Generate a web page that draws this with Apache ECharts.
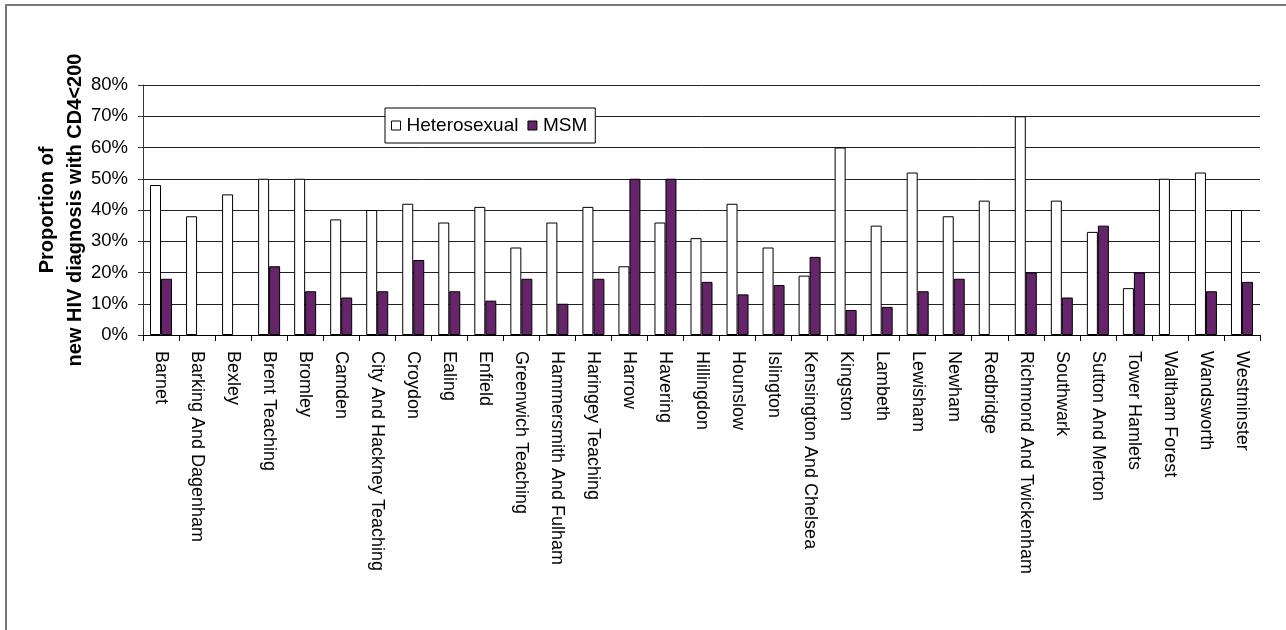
<!DOCTYPE html>
<html>
<head>
<meta charset="utf-8">
<script src="https://cdn.jsdelivr.net/npm/echarts@6/dist/echarts.min.js"></script>
<style>
  html, body { margin: 0; padding: 0; background: #fff; }
  #chart { width: 1286px; height: 630px; }
</style>
</head>
<body>
<div id="chart"></div>
<script>
// London PCTs: share of new HIV diagnoses presenting with CD4 < 200
const categories = [
  'Barnet', 'Barking And Dagenham', 'Bexley', 'Brent Teaching', 'Bromley',
  'Camden', 'City And Hackney Teaching', 'Croydon', 'Ealing', 'Enfield',
  'Greenwich Teaching', 'Hammersmith And Fulham', 'Haringey Teaching', 'Harrow',
  'Havering', 'Hillingdon', 'Hounslow', 'Islington', 'Kensington And Chelsea',
  'Kingston', 'Lambeth', 'Lewisham', 'Newham', 'Redbridge',
  'Richmond And Twickenham', 'Southwark', 'Sutton And Merton', 'Tower Hamlets',
  'Waltham Forest', 'Wandsworth', 'Westminster'
];

// Percentages (null = no value shown)
const heterosexual = [
  48, 38, 45, 50, 50, 37, 40, 42, 36, 41,
  28, 36, 41, 22, 36, 31, 42, 28, 19, 60,
  35, 52, 38, 43, 70, 43, 33, 15, 50, 52, 40
];
const msm = [
  18, null, null, 22, 14, 12, 14, 24, 14, 11,
  18, 10, 18, 50, 50, 17, 13, 16, 25, 8,
  9, 14, 18, null, 20, 12, 35, 20, null, 14, 17
];

const yTicks = { min: 0, max: 80, interval: 10 };
const seriesNames = ['Heterosexual', 'MSM'];

const FONT = "'Liberation Sans', Arial, sans-serif";
const PURPLE = '#66246b';

const chart = echarts.init(document.getElementById('chart'), null, { renderer: 'canvas' });

chart.setOption({
  backgroundColor: '#ffffff',
  animation: false,
  textStyle: { fontFamily: FONT, color: '#000' },
  grid: { left: 143, right: 26, top: 85, bottom: 295, containLabel: false },
  legend: {
    data: seriesNames,
    left: 385,
    top: 108,
    orient: 'horizontal',
    icon: 'rect',
    itemWidth: 9,
    itemHeight: 9,
    itemGap: 9,
    padding: [8, 8, 8, 6],
    backgroundColor: '#ffffff',
    borderColor: '#000',
    borderWidth: 1,
    borderRadius: 0,
    textStyle: { fontFamily: FONT, fontSize: 19, color: '#000', padding: [0, 0, 0, 1] },
    itemStyle: { borderColor: '#000', borderWidth: 1 }
  },
  xAxis: {
    type: 'category',
    data: categories,
    boundaryGap: true,
    axisLine: { show: true, lineStyle: { color: '#000', width: 1 } },
    axisTick: { show: true, length: 6, alignWithLabel: false, lineStyle: { color: '#000' } },
    axisLabel: {
      interval: 0,
      rotate: -90,
      margin: 16,
      fontFamily: FONT,
      fontSize: 18,
      color: '#000'
    },
    splitLine: { show: false }
  },
  yAxis: {
    type: 'value',
    min: yTicks.min,
    max: yTicks.max,
    interval: yTicks.interval,
    name: 'Proportion of\nnew HIV diagnosis with CD4<200',
    nameLocation: 'middle',
    nameRotate: 90,
    nameGap: 54,
    nameMoveOverlap: false,
    nameTextStyle: {
      fontFamily: FONT,
      fontSize: 20,
      fontWeight: 'bold',
      color: '#000',
      lineHeight: 28
    },
    axisLine: { show: true, lineStyle: { color: '#333', width: 1 } },
    axisTick: { show: true, inside: false, length: 5, lineStyle: { color: '#333' } },
    axisLabel: {
      margin: 15,
      fontFamily: FONT,
      fontSize: 18.5,
      color: '#000',
      formatter: v => v + '%'
    },
    splitLine: { show: true, lineStyle: { color: '#222', width: 1 } }
  },
  graphic: [
    {
      // hide the overflow of the axis title above the frame area
      type: 'rect',
      z: 100,
      shape: { x: 20, y: 8, width: 70, height: 42 },
      style: { fill: '#ffffff' }
    },
    {
      // outer frame
      type: 'rect',
      z: 101,
      shape: { x: 6, y: 5, width: 1400, height: 800 },
      style: { fill: 'none', stroke: '#777', lineWidth: 2 }
    }
  ],
  series: [
    {
      name: seriesNames[0],
      type: 'bar',
      data: heterosexual,
      barWidth: 11,
      barGap: '0%',
      itemStyle: { color: '#ffffff', borderColor: '#000', borderWidth: 1 }
    },
    {
      name: seriesNames[1],
      type: 'bar',
      data: msm,
      barWidth: 11,
      barGap: '0%',
      itemStyle: { color: PURPLE, borderColor: '#000', borderWidth: 1 }
    }
  ]
});
</script>
</body>
</html>
